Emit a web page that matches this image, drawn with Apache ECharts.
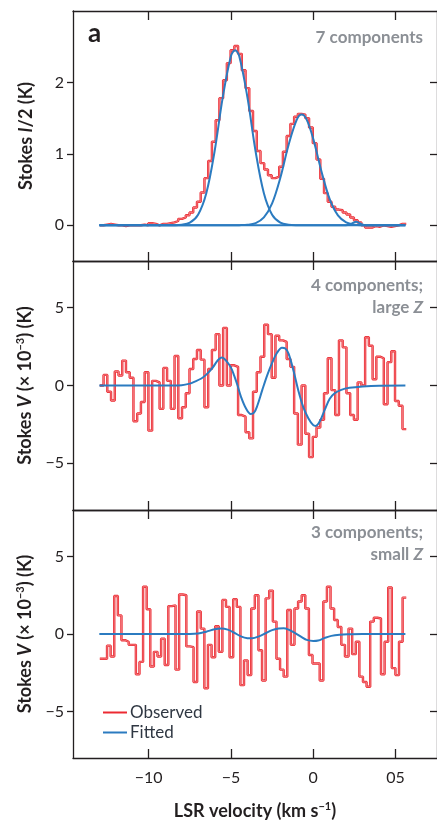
<!DOCTYPE html>
<html>
<head>
<meta charset="utf-8">
<script src="https://cdn.jsdelivr.net/npm/echarts@6/dist/echarts.min.js"></script>
<style>
html,body{margin:0;padding:0;background:#fff;}
#chart{width:437px;height:821px;}
</style>
</head>
<body>
<div id="chart"></div>
<script>
// ---------- DATA ----------
// channel range of the spectra (km/s)
const velStart = -12.97;
const velEnd = 5.65;
const xTicks = [-10, -5, 0, 5];
const xTickLabels = ['\u221210', '\u22125', '0', '05'];
const yTicksI = [0, 1, 2];
const yTicksV = [-5, 0, 5];

// Panel a: Stokes I/2 (K), observed channels
const obsI = [0.0, 0.01, 0.02, 0.01, 0.0, 0.0, -0.01, 0.0, 0.0, 0.0,
  0.0, 0.01, 0.0, 0.03, 0.02, 0.0, 0.02, 0.02, 0.03, 0.04,
  0.06, 0.09, 0.11, 0.14, 0.18, 0.25, 0.33, 0.46, 0.66, 0.9,
  1.17, 1.47, 1.78, 2.03, 2.27, 2.45, 2.51, 2.4, 2.17, 1.92,
  1.6, 1.32, 1.04, 0.87, 0.78, 0.7, 0.66, 0.68, 0.82, 1.03,
  1.25, 1.42, 1.52, 1.56, 1.55, 1.5, 1.37, 1.15, 0.92, 0.65,
  0.45, 0.33, 0.26, 0.22, 0.21, 0.18, 0.15, 0.11, 0.07, 0.04,
  0.0, -0.03, -0.03, -0.01, -0.02, 0.0, -0.01, -0.02, -0.01, 0.0,
  0.02, 0.02];
// fitted components (velocity, K)
const fitI1 = [[-13,0],[-9,0],[-8.5,0.001],[-8,0.007],[-7.5,0.037],[-7,0.148],[-6.5,0.449],[-6,1.03],[-5.5,1.79],[-5,2.37],[-4.75,2.45],[-4.5,2.37],[-4,1.79],[-3.5,1.03],[-3,0.449],[-2.5,0.148],[-2,0.037],[-1.5,0.007],[-1,0.001],[0,0],[5.6,0]];
const fitI2 = [[-13,0],[-5,0],[-4.5,0.002],[-4,0.007],[-3.5,0.031],[-3,0.11],[-2.5,0.307],[-2,0.666],[-1.5,1.125],[-1,1.48],[-0.7,1.55],[-0.4,1.48],[0,1.21],[0.5,0.754],[1,0.365],[1.5,0.138],[2,0.041],[2.5,0.009],[3,0.001],[3.5,0],[5.6,0]];
const fitI3 = [[-13,0],[1.8,0],[2.1,0.005],[2.35,0.025],[2.6,0.05],[2.85,0.025],[3.1,0.005],[3.4,0],[5.6,0]];

// Panel: Stokes V (x 1e-3 K), 4 components, large Z
const obsV1 = [0, 0.68, -0.4, -0.96, 0.9, 0.64, 1.6, 0.85, 0.5, -2.3,
  -1.8, -1.06, 0.85, -2.9, 0.3, 0.2, -1.5, 1.13, 0.3, -1.5,
  1.9, -2.1, -1.4, -0.5, 1.06, 1.7, 2.28, 1.66, -1.4, 1.06,
  2.28, 3.3, 0, 3.7, 0, 1.3, 1.2, -1.9, -2.0, -3.0,
  -3.4, -0.4, 0.85, 1.85, 3.9, 3.3, 0.5, 3.2, 2.9, 2.8,
  1.7, 1.2, -1.8, -3.8, 0, -3.1, -4.6, -3.3, -2.7, -2.2,
  -0.5, 1.75, -0.3, -1.9, 2.9, 2.45, -0.5, -1.9, -2.2, 0.2,
  0, 3.1, 2.55, 0.4, 1.85, 1.75, -1.2, 1.5, 2.2, -1.0,
  -1.3, -2.8];
const fitV1 = [[-13,0],[-9,0],[-8,0.02],[-7.5,0.12],[-7.2,0.25],[-6.8,0.45],[-6.5,0.7],[-6.1,1.17],[-5.8,1.62],[-5.55,1.8],[-5.3,1.6],[-5.0,1.15],[-4.8,0.62],[-4.6,0.0],[-4.4,-0.7],[-4.1,-1.45],[-3.8,-1.83],[-3.6,-1.75],[-3.4,-1.3],[-3.1,-0.3],[-2.8,0.65],[-2.5,1.45],[-2.2,2.1],[-1.9,2.42],[-1.7,2.38],[-1.5,2.05],[-1.2,0.95],[-0.9,-0.35],[-0.6,-1.4],[-0.3,-2.1],[0.0,-2.55],[0.15,-2.6],[0.4,-2.3],[0.7,-1.55],[1.0,-0.85],[1.3,-0.5],[1.7,-0.28],[2.2,-0.15],[3.0,-0.06],[4.0,-0.01],[5.6,0]];

// Panel: Stokes V (x 1e-3 K), 3 components, small Z
const obsV2 = [-1.6, -1.6, -0.75, -1.45, 2.45, 1.2, -0.4, -0.5, -0.7, -0.7,
  -2.6, -1.8, 3.05, 1.6, -2.1, -1.15, -1.45, -0.3, -2.0, 1.8,
  1.85, -2.3, 2.55, 2.5, -0.8, -0.85, -3.1, 1.45, 0.35, -3.5,
  -0.7, -1.5, 0.5, -1.15, 2.2, 1.75, -1.5, 2.25, 1.75, -3.3,
  -1.7, -2.65, 1.65, 2.5, -1.05, -3.0, 2.3, 2.8, 0.8, -1.6,
  -2.3, -2.75, 1.55, -0.7, 1.65, 2.1, 2.5, 1.65, -1.35, -1.9,
  -1.9, -3.0, 2.1, 3.05, 1.65, 0.9, 0.45, -0.7, -1.45, 0.35,
  -1.3, -0.5, -2.75, -3.1, -3.4, 0.8, 1.05, 1.0, -2.6, -0.5,
  3.0, -2.2, -2.65, -0.5, 2.35];
const fitV2 = [[-13,0],[-7.5,0],[-7.0,0.03],[-6.5,0.15],[-6.0,0.3],[-5.6,0.35],[-5.2,0.28],[-4.8,0.08],[-4.4,-0.15],[-4.0,-0.27],[-3.7,-0.28],[-3.3,-0.15],[-2.9,0.05],[-2.5,0.25],[-2.1,0.35],[-1.8,0.37],[-1.5,0.28],[-1.1,0.05],[-0.7,-0.2],[-0.4,-0.38],[0.0,-0.45],[0.3,-0.42],[0.7,-0.25],[1.1,-0.12],[1.6,-0.05],[2.2,-0.02],[3.0,0],[5.6,0]];

// ---------- CHART ----------
function toSteps(vals) {
  const n = vals.length, w = (velEnd - velStart) / n;
  const d = vals.map((y, i) => [velStart + i * w, y]);
  d.push([velEnd, vals[n - 1]]);
  return d;
}

const FONT = 'Lato';
const AX = '#231f20';
const RED = '#ec2a32';
const PINK = '#f7a9ab';
const BLUE = '#2b7bc0';
const GRAY = '#8b8f95';

const grids = [
  {left: 73, right: -1, top: 11, height: 250},
  {left: 73, right: -1, top: 261, height: 249},
  {left: 73, right: -1, top: 510, height: 248}
];

function xAx(gi, pos, labels) {
  return {
    type: 'value', gridIndex: gi, position: pos, min: -14.6, max: 7.52,
    axisLine: {show: true, onZero: false, lineStyle: {color: AX, width: 1.3}},
    axisTick: {show: true, inside: true, length: 9, customValues: xTicks, lineStyle: {color: AX, width: 1.3}},
    axisLabel: {show: labels, customValues: xTicks, margin: 12, color: AX, fontFamily: FONT, fontSize: 16,
      formatter: v => xTickLabels[xTicks.indexOf(v)]},
    splitLine: {show: false},
    name: labels ? '{b|LSR velocity (km s}{s|\u22121}{b|)}' : '',
    nameLocation: 'middle', nameGap: 43,
    nameTextStyle: {rich: {
      b: {fontFamily: FONT, fontWeight: 'bold', fontSize: 18, color: AX},
      s: {fontFamily: FONT, fontWeight: 'bold', fontSize: 11, color: AX, verticalAlign: 'top', padding: [0, 0, 9, 0]}
    }}
  };
}
function yAx(gi, pos, min, max, ticks, name) {
  const left = pos === 'left';
  return {
    type: 'value', gridIndex: gi, position: pos, min: min, max: max,
    axisLine: {show: true, onZero: false, lineStyle: {color: AX, width: 1.3}},
    axisTick: {show: true, inside: !left, length: left ? 6 : 7, customValues: ticks, lineStyle: {color: AX, width: 1.3}},
    axisLabel: {show: left, customValues: ticks, margin: 9, color: AX, fontFamily: FONT, fontSize: 16,
      formatter: v => (v < 0 ? '\u2212' + Math.abs(v) : String(v))},
    splitLine: {show: false},
    name: left ? name : '', nameLocation: 'middle', nameGap: 38, nameRotate: 90,
    nameTextStyle: {rich: {
      b: {fontFamily: FONT, fontWeight: 'bold', fontSize: 18, color: AX},
      i: {fontFamily: FONT, fontWeight: 'bold', fontStyle: 'italic', fontSize: 18, color: AX},
      s: {fontFamily: FONT, fontWeight: 'bold', fontSize: 11, color: AX, verticalAlign: 'top', padding: [0, 0, 9, 0]}
    }}
  };
}

const nameI = '{b|Stokes }{i|I}{b|/2 (K)}';
const nameV = '{b|Stokes }{i|V}{b| (\u00d7 10}{s|\u22123}{b|) (K)}';

function obsSeries(xi, vals) {
  return [
    {name: 'Observed', type: 'line', xAxisIndex: xi, yAxisIndex: xi, data: toSteps(vals),
      step: 'end', symbol: 'none', lineStyle: {color: RED, width: 2.4}, itemStyle: {color: RED}, z: 2, silent: true},
    {name: 'ObservedCore', type: 'line', xAxisIndex: xi, yAxisIndex: xi, data: toSteps(vals),
      step: 'end', symbol: 'none', lineStyle: {color: PINK, width: 0.6}, itemStyle: {color: PINK}, z: 2, silent: true}
  ];
}
function fitSeries(xi, pts) {
  return {name: 'Fitted', type: 'line', xAxisIndex: xi, yAxisIndex: xi, data: pts,
    smooth: 0.35, symbol: 'none', lineStyle: {color: BLUE, width: 2}, itemStyle: {color: BLUE}, z: 3, silent: true};
}

const chart = echarts.init(document.getElementById('chart'), null, {renderer: 'canvas'});
chart.setOption({
  animation: false,
  backgroundColor: '#fff',
  grid: grids,
  xAxis: [xAx(0, 'bottom', false), xAx(1, 'bottom', false), xAx(2, 'bottom', true),
          xAx(0, 'top', false), xAx(1, 'top', false), xAx(2, 'top', false)],
  yAxis: [yAx(0, 'left', -0.5, 3, yTicksI, nameI), yAx(1, 'left', -8, 8, yTicksV, nameV), yAx(2, 'left', -8, 8, yTicksV, nameV),
          yAx(0, 'right', -0.5, 3, yTicksI, ''), yAx(1, 'right', -8, 8, yTicksV, ''), yAx(2, 'right', -8, 8, yTicksV, '')],
  legend: {
    orient: 'vertical', left: 98, top: 699, itemWidth: 24, itemHeight: 2, itemGap: 3,
    icon: 'rect', selectedMode: false,
    textStyle: {fontFamily: FONT, fontSize: 17, color: '#2f3742', padding: [0, 0, 0, -2]},
    data: ['Observed', 'Fitted']
  },
  graphic: [
    {type: 'text', left: 88, top: 21, style: {text: 'a', font: 'bold 26px ' + FONT, fill: AX}},
    {type: 'text', right: 14, top: 29, style: {text: '7 components', font: 'bold 17px ' + FONT, fill: GRAY}},
    {type: 'text', right: 14, top: 277, style: {text: '4 components;', font: 'bold 17px ' + FONT, fill: GRAY}},
    {type: 'text', right: 14, top: 299, style: {text: '{n|large }{i|Z}', rich: {
      n: {font: 'bold 17px ' + FONT, fill: GRAY}, i: {font: 'italic bold 17px ' + FONT, fill: GRAY}}}},
    {type: 'text', right: 14, top: 524, style: {text: '3 components;', font: 'bold 17px ' + FONT, fill: GRAY}},
    {type: 'text', right: 14, top: 546, style: {text: '{n|small }{i|Z}', rich: {
      n: {font: 'bold 17px ' + FONT, fill: GRAY}, i: {font: 'italic bold 17px ' + FONT, fill: GRAY}}}}
  ],
  series: [
    ...obsSeries(0, obsI),
    fitSeries(0, fitI1), fitSeries(0, fitI2), fitSeries(0, fitI3),
    ...obsSeries(1, obsV1), fitSeries(1, fitV1),
    ...obsSeries(2, obsV2), fitSeries(2, fitV2)
  ]
});
</script>
</body>
</html>
